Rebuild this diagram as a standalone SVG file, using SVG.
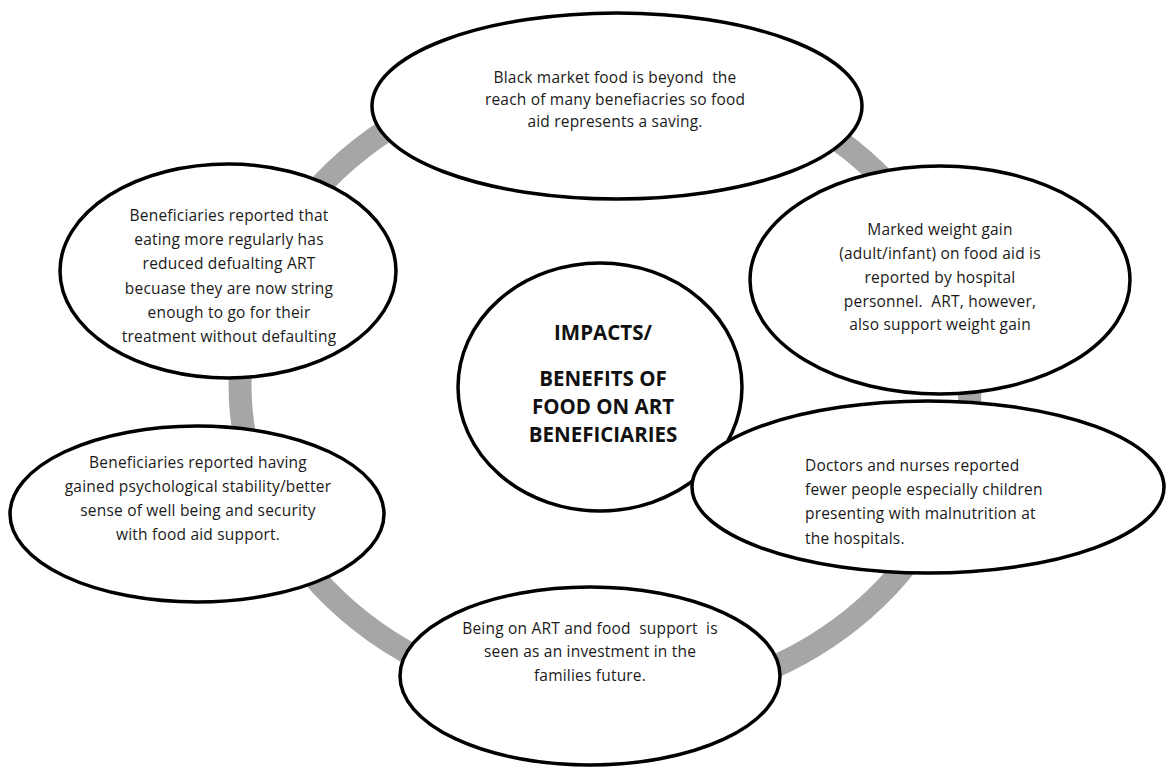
<svg xmlns="http://www.w3.org/2000/svg" width="1175" height="771" viewBox="0 0 1175 771">
<style>
.node{fill:#fff;stroke:#000;stroke-width:3.5}
.t{font-family:"Open Sans","Liberation Sans",Arial,sans-serif;font-size:15.5px;letter-spacing:0.2px;fill:#1a1a1a;white-space:pre}
.c{text-anchor:middle}
.h{font-family:"Open Sans","Liberation Sans",sans-serif;font-size:20.5px;font-weight:bold;fill:#111;text-anchor:middle}
.ring{fill:none;stroke:#a6a6a6;stroke-width:23}
</style>
<rect width="1175" height="771" fill="#fff"/>
<g id="connectors">
<ellipse class="ring" cx="605" cy="385" rx="365" ry="318"/>
</g>
<g id="n-top">
<ellipse class="node" cx="617" cy="106" rx="245" ry="93"/>
<text class="t c" x="615" y="83">Black market food is beyond  the</text>
<text class="t c" x="615" y="105">reach of many benefiacries so food</text>
<text class="t c" x="615" y="127">aid represents a saving.</text>
</g>
<g id="n-topleft">
<ellipse class="node" cx="228" cy="271" rx="168" ry="107"/>
<text class="t c" x="229" y="221">Beneficiaries reported that</text>
<text class="t c" x="229" y="245">eating more regularly has</text>
<text class="t c" x="229" y="269">reduced defualting ART</text>
<text class="t c" x="229" y="294">becuase they are now string</text>
<text class="t c" x="229" y="318">enough to go for their</text>
<text class="t c" x="229" y="342">treatment without defaulting</text>
</g>
<g id="n-topright">
<ellipse class="node" cx="940" cy="280" rx="190" ry="114"/>
<text class="t c" x="940" y="235">Marked weight gain</text>
<text class="t c" x="940" y="259">(adult/infant) on food aid is</text>
<text class="t c" x="940" y="283">reported by hospital</text>
<text class="t c" x="940" y="307">personnel.  ART, however,</text>
<text class="t c" x="940" y="330">also support weight gain</text>
</g>
<g id="n-center">
<ellipse class="node" cx="600" cy="387" rx="142" ry="124"/>
<text class="h" x="603" y="340">IMPACTS/</text>
<text class="h" x="603" y="386">BENEFITS OF</text>
<text class="h" x="603" y="414">FOOD ON ART</text>
<text class="h" x="603" y="442">BENEFICIARIES</text>
</g>
<g id="n-bottomleft">
<ellipse class="node" cx="197" cy="514" rx="187" ry="88"/>
<text class="t c" x="198" y="468">Beneficiaries reported having</text>
<text class="t c" x="198" y="492">gained psychological stability/better</text>
<text class="t c" x="198" y="516">sense of well being and security</text>
<text class="t c" x="198" y="540">with food aid support.</text>
</g>
<g id="n-bottomright">
<ellipse class="node" cx="928" cy="487" rx="236" ry="86"/>
<text class="t" x="805" y="471">Doctors and nurses reported</text>
<text class="t" x="805" y="495">fewer people especially children</text>
<text class="t" x="805" y="519">presenting with malnutrition at</text>
<text class="t" x="805" y="544">the hospitals.</text>
</g>
<g id="n-bottom">
<ellipse class="node" cx="590" cy="676" rx="190" ry="89"/>
<text class="t c" x="590" y="634">Being on ART and food  support  is</text>
<text class="t c" x="590" y="657">seen as an investment in the</text>
<text class="t c" x="590" y="681">families future.</text>
</g>
</svg>
